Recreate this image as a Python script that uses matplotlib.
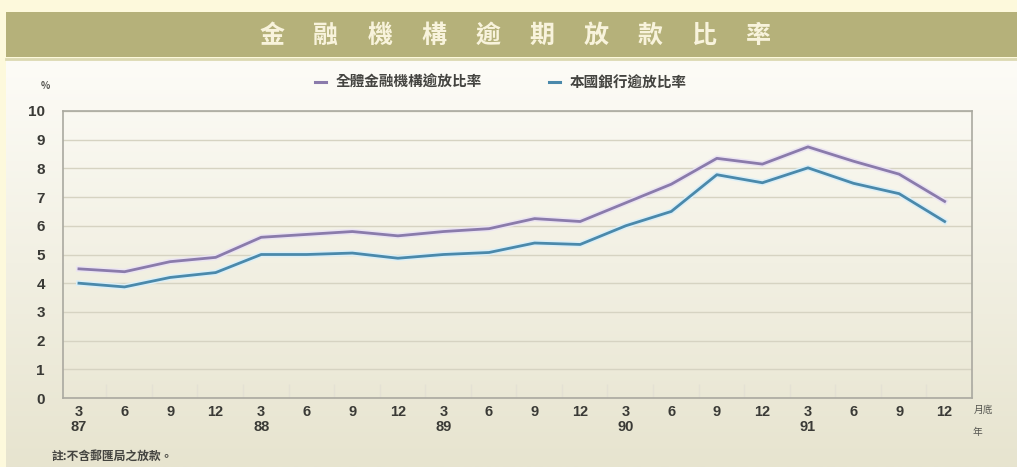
import numpy as np
import matplotlib
matplotlib.use("Agg")
import matplotlib.pyplot as plt
from matplotlib.lines import Line2D

plt.rcParams['font.family'] = ['Noto Sans CJK TC', 'DejaVu Sans']

# Quarter-end months (民國 87–91)
months = ['3', '6', '9', '12'] * 5
years = ['87', '88', '89', '90', '91']
# 全體金融機構逾放比率 (%)
all_inst = [4.50, 4.40, 4.75, 4.90, 5.60, 5.70, 5.80, 5.65, 5.80, 5.90,
            6.25, 6.15, 6.80, 7.45, 8.35, 8.15, 8.75, 8.25, 7.80, 6.85]
# 本國銀行逾放比率 (%)
domestic = [4.00, 3.87, 4.20, 4.37, 5.00, 5.00, 5.05, 4.87, 5.00, 5.07,
            5.40, 5.35, 6.00, 6.50, 7.78, 7.50, 8.02, 7.48, 7.12, 6.15]
series_names = ['全體金融機構逾放比率', '本國銀行逾放比率']
title_chars = list('金融機構逾期放款比率')
note = '註:不含郵匯局之放款。'

W, H = 1017, 467
fig = plt.figure(figsize=(W / 100, H / 100), dpi=100)
fig.patch.set_facecolor('#fdf9dc')

# panel with a soft vertical gradient
panel = fig.add_axes([6 / W, 0, 1 - 6 / W, 1 - 59 / H])
grad = np.linspace(0, 1, 256)[:, None]
c_top = np.array([0xfd, 0xfc, 0xf7]) / 255
c_bot = np.array([0xe7, 0xe4, 0xcf]) / 255
img = c_top[None, None, :] * (1 - grad[..., None]) + c_bot[None, None, :] * grad[..., None]
panel.imshow(img, aspect='auto', extent=[0, 1, 0, 1])
panel.set_axis_off()

# title band
band = fig.add_axes([6 / W, 1 - 57 / H, 1 - 6 / W, 45 / H])
band.set_facecolor('#b5b17a')
band.set_xticks([]); band.set_yticks([])
for s in band.spines.values():
    s.set_visible(False)
fig.add_artist(Line2D([6 / W, 1], [1 - 58.5 / H] * 2, color='#dcd9b2', lw=2))
for i, ch in enumerate(title_chars):
    fig.text((272 + i * 54) / W, 1 - 36 / H, ch, ha='center', va='center',
             fontsize=18, color='#f8f3dc', fontweight='bold')

# plot area
ax = fig.add_axes([63 / W, 1 - 398 / H, (972 - 63) / W, (398 - 111) / H])
ax.patch.set_alpha(0)
x = np.arange(len(months))
ax.plot(x, all_inst, color='#ebe4f2', lw=4.2, solid_joinstyle='round', zorder=2)
ax.plot(x, all_inst, color='#8a7bab', lw=2.0, solid_joinstyle='round', zorder=3)
ax.plot(x, domestic, color='#dbeff7', lw=4.2, solid_joinstyle='round', zorder=2)
ax.plot(x, domestic, color='#4a89ab', lw=2.0, solid_joinstyle='round', zorder=3)

ax.set_xlim(-0.35, 19.58)
ax.set_ylim(0, 10)
ax.set_yticks(range(0, 11))
ax.yaxis.grid(True, color='#d6d3c2', lw=1)
ax.set_axisbelow(True)
labels = [m + ('\n' + years[i // 4] if m == '3' else '') for i, m in enumerate(months)]
ax.set_xticks(x)
ax.set_xticklabels(labels, linespacing=1.1)
ax.set_xticks(x + 0.6, minor=True)
ax.tick_params(axis='x', which='major', length=0, pad=5, labelsize=10.5, labelcolor='#3a3a36')
ax.tick_params(axis='x', which='minor', direction='in', length=10, color='#e4e1d4', width=1)
ax.tick_params(axis='y', length=0, pad=13, labelsize=11, labelcolor='#3a3a36')
for lab in ax.get_xticklabels() + ax.get_yticklabels():
    lab.set_fontweight('bold')
    lab.set_family(['Liberation Sans', 'DejaVu Sans'])
for s in ax.spines.values():
    s.set_color('#aaa9a0')
    s.set_linewidth(1.2)

# units
fig.text(45 / W, 1 - 86 / H, '%', ha='center', va='center', fontsize=7, color='#555550',
         fontweight='bold')
fig.text(983 / W, 1 - 410 / H, '月底', ha='center', va='center', fontsize=7, color='#555550')
fig.text(977 / W, 1 - 432 / H, '年', ha='center', va='center', fontsize=7, color='#555550')

# legend
for (x0, name, col) in [(315, series_names[0], '#8a7bab'), (549, series_names[1], '#4a89ab')]:
    fig.add_artist(Line2D([x0 / W, (x0 + 11) / W], [1 - 82 / H] * 2, color=col, lw=2.2))
    fig.text((x0 + 21) / W, 1 - 82 / H, name, ha='left', va='center', fontsize=10.5,
             color='#444440', fontweight='bold')

fig.text(52 / W, 1 - 456 / H, note, ha='left', va='center', fontsize=8.5, color='#444440',
         fontweight='bold')

fig.savefig('out.png', dpi=100)
